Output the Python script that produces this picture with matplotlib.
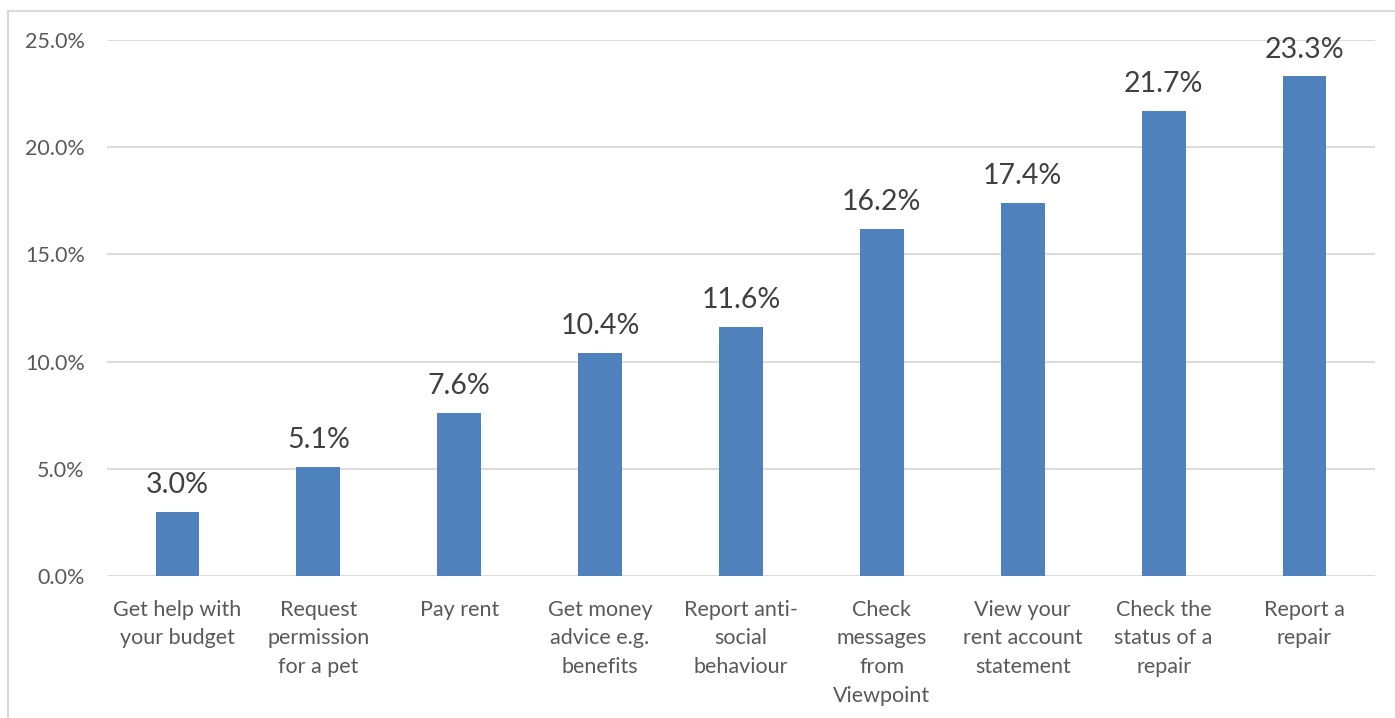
import matplotlib
matplotlib.use("Agg")
import matplotlib.pyplot as plt
from matplotlib.patches import Rectangle
from matplotlib.ticker import FuncFormatter, MultipleLocator

categories = [
    "Get help with\nyour budget",
    "Request\npermission\nfor a pet",
    "Pay rent",
    "Get money\nadvice e.g.\nbenefits",
    "Report anti-\nsocial\nbehaviour",
    "Check\nmessages\nfrom\nViewpoint",
    "View your\nrent account\nstatement",
    "Check the\nstatus of a\nrepair",
    "Report a\nrepair",
]
values = [3.0, 5.1, 7.6, 10.4, 11.6, 16.2, 17.4, 21.7, 23.3]

plt.rcParams['font.family'] = ['Lato', 'DejaVu Sans']

fig = plt.figure(figsize=(13.95, 7.18), dpi=100)
fig.patch.set_facecolor('white')
# outer border
fig.add_artist(Rectangle((8/1395, -0.01), 1.1, 1 - 11/718 + 0.01, transform=fig.transFigure,
                         fill=False, edgecolor='#D9D9D9', linewidth=1.5))

ax = fig.add_axes([107/1395, 1 - 576/718, (1375 - 107)/1395, (576 - 40)/718])
x = range(len(categories))
bars = ax.bar(x, values, width=0.31, color='#4F81BD', zorder=3)
ax.set_xlim(-0.5, len(categories) - 0.5)
ax.set_ylim(0, 25)
ax.yaxis.set_major_locator(MultipleLocator(5))
ax.yaxis.set_major_formatter(FuncFormatter(lambda v, p: f"{v:.1f}%"))
ax.grid(axis='y', color='#D9D9D9', linewidth=1.3, zorder=0)
for s in ax.spines.values():
    s.set_visible(False)
ax.tick_params(axis='both', length=0, labelsize=15.5, colors='#595959')
ax.tick_params(axis='y', pad=16)
ax.tick_params(axis='x', pad=17)
ax.set_xticks(list(x))
ax.set_xticklabels(categories, linespacing=1.55, va='top')

for xi, v in zip(x, values):
    ax.annotate(f"{v:.1f}%", (xi, v), xytext=(0, 10), textcoords='offset points',
                ha='center', va='bottom', fontsize=20.5, color='#404040')

fig.savefig('out.png', dpi=100)
